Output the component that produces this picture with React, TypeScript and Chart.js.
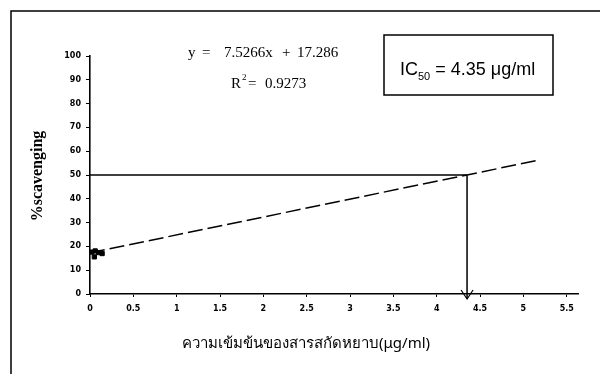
import React, { useEffect, useRef } from "react";
import { Chart, registerables } from "chart.js";

Chart.register(...registerables);

// Data
const sampleX = [0.02, 0.06, 0.1, 0.14, 0.05];
const sampleY = [17.6, 18.1, 17.4, 17.0, 15.6];
const fitX = [0, 5.17];
const fitY = [17.3, 56.2];
const ic50 = 4.35;
const ic50Y = 50;
const xTicks = [0, 0.5, 1, 1.5, 2, 2.5, 3, 3.5, 4, 4.5, 5, 5.5];
const yTicks = [0, 10, 20, 30, 40, 50, 60, 70, 80, 90, 100];
const equationParts = ["y", "=", "7.5266x", "+", "17.286"];
const r2Text = "0.9273";
const xTitle = "ความเข้มข้นของสารสกัดหยาบ(μg/ml)";
const yTitle = "%scavenging";

const serif = "'Liberation Serif', 'DejaVu Serif', serif";
const sans = "'Liberation Sans', Arial, sans-serif";

const overlay = {
  id: "overlay",
  afterDatasetsDraw(chart: any) {
    const { ctx, scales } = chart;
    const xs = scales.x;
    const ys = scales.y;
    ctx.save();
    // frame
    ctx.strokeStyle = "#000";
    ctx.lineWidth = 1.5;
    ctx.beginPath();
    ctx.moveTo(11, 374);
    ctx.lineTo(11, 11);
    ctx.lineTo(600, 11);
    ctx.stroke();

    // IC50 guide lines
    const px = xs.getPixelForValue(ic50);
    const py = ys.getPixelForValue(ic50Y);
    const p0x = xs.getPixelForValue(0);
    const p0y = ys.getPixelForValue(0);
    ctx.lineWidth = 1.5;
    ctx.beginPath();
    ctx.moveTo(p0x, py);
    ctx.lineTo(px, py);
    ctx.moveTo(px, py);
    ctx.lineTo(px, p0y + 5);
    ctx.stroke();
    ctx.lineWidth = 1.2;
    ctx.beginPath();
    ctx.moveTo(px - 6, p0y - 4);
    ctx.lineTo(px, p0y + 5);
    ctx.lineTo(px + 6, p0y - 4);
    ctx.stroke();

    // equation text
    ctx.fillStyle = "#000";
    ctx.font = "15px " + serif;
    ctx.textBaseline = "alphabetic";
    ctx.textAlign = "left";
    const eqX = [188, 202, 224, 282, 297];
    equationParts.forEach((t, i) => ctx.fillText(t, eqX[i], 57));
    ctx.fillText("R", 231, 88);
    ctx.font = "9px " + serif;
    ctx.fillText("2", 242, 80);
    ctx.font = "15px " + serif;
    ctx.fillText("=", 248, 88);
    ctx.fillText(r2Text, 265, 88);

    // IC50 box
    ctx.lineWidth = 1.5;
    ctx.strokeRect(384, 35, 169, 60);
    ctx.font = "18px " + sans;
    ctx.fillText("IC", 400, 75);
    const icw = ctx.measureText("IC").width;
    ctx.font = "11px " + sans;
    ctx.fillText("50", 400 + icw, 80);
    const sw = ctx.measureText("50").width;
    ctx.font = "18px " + sans;
    ctx.fillText(" = " + ic50 + " μg/ml", 400 + icw + sw, 75);

    // axis titles
    ctx.font = "15px 'Noto Sans', 'DejaVu Sans', sans-serif";
    ctx.textAlign = "center";
    ctx.fillText(xTitle, 306, 348);

    ctx.translate(42, 176);
    ctx.rotate(-Math.PI / 2);
    ctx.font = "bold 16px " + serif;
    ctx.textAlign = "center";
    ctx.fillText(yTitle, 0, 0);
    ctx.restore();
  },
};

export default function App() {
  const ref = useRef<HTMLCanvasElement>(null);
  useEffect(() => {
    if (!ref.current) return;
    const chart = new Chart(ref.current, {
      type: "scatter",
      data: {
        datasets: [
          {
            label: "fit",
            data: fitX.map((x, i) => ({ x, y: fitY[i] })),
            showLine: true,
            borderColor: "#000",
            borderWidth: 1.5,
            borderDash: [15, 5],
            pointRadius: 0,
          },
          {
            label: "samples",
            data: sampleX.map((x, i) => ({ x, y: sampleY[i] })),
            backgroundColor: "#000",
            borderColor: "#000",
            pointStyle: "rect",
            pointRadius: 3,
          },
        ],
      },
      options: {
        responsive: false,
        animation: false,
        layout: { padding: { left: 10, top: 56, right: 22, bottom: 0 } },
        plugins: { legend: { display: false }, tooltip: { enabled: false } },
        scales: {
          x: {
            type: "linear",
            min: 0,
            max: 5.63,
            afterBuildTicks: (s: any) => {
              s.ticks = xTicks.map((v) => ({ value: v }));
            },
            afterFit: (s: any) => {
              s.height = 80;
            },
            grid: { display: true, drawOnChartArea: false, drawTicks: true, tickLength: 3, color: "#000" },
            border: { display: true, color: "#000", width: 1.6 },
            ticks: {
              color: "#000",
              padding: 7,
              maxRotation: 0,
              autoSkip: false,
              font: { family: "'DejaVu Sans', sans-serif", size: 8, weight: "bold" },
              callback: (v: any) => String(v),
            },
          },
          y: {
            type: "linear",
            min: 0,
            max: 100,
            afterBuildTicks: (s: any) => {
              s.ticks = yTicks.map((v) => ({ value: v }));
            },
            afterFit: (s: any) => {
              s.width = 80;
            },
            grid: { display: true, drawOnChartArea: false, drawTicks: true, tickLength: 4, color: "#000" },
            border: { display: true, color: "#000", width: 1.6 },
            ticks: {
              color: "#000",
              padding: 5,
              autoSkip: false,
              font: { family: "'DejaVu Sans', sans-serif", size: 8, weight: "bold" },
            },
          },
        },
      },
      plugins: [overlay],
    });
    return () => chart.destroy();
  }, []);
  return (
    <div style={{ position: "absolute", left: 0, top: 0, width: 600, height: 374, background: "#fff" }}>
      <canvas ref={ref} width={600} height={374} style={{ display: "block" }} />
    </div>
  );
}
